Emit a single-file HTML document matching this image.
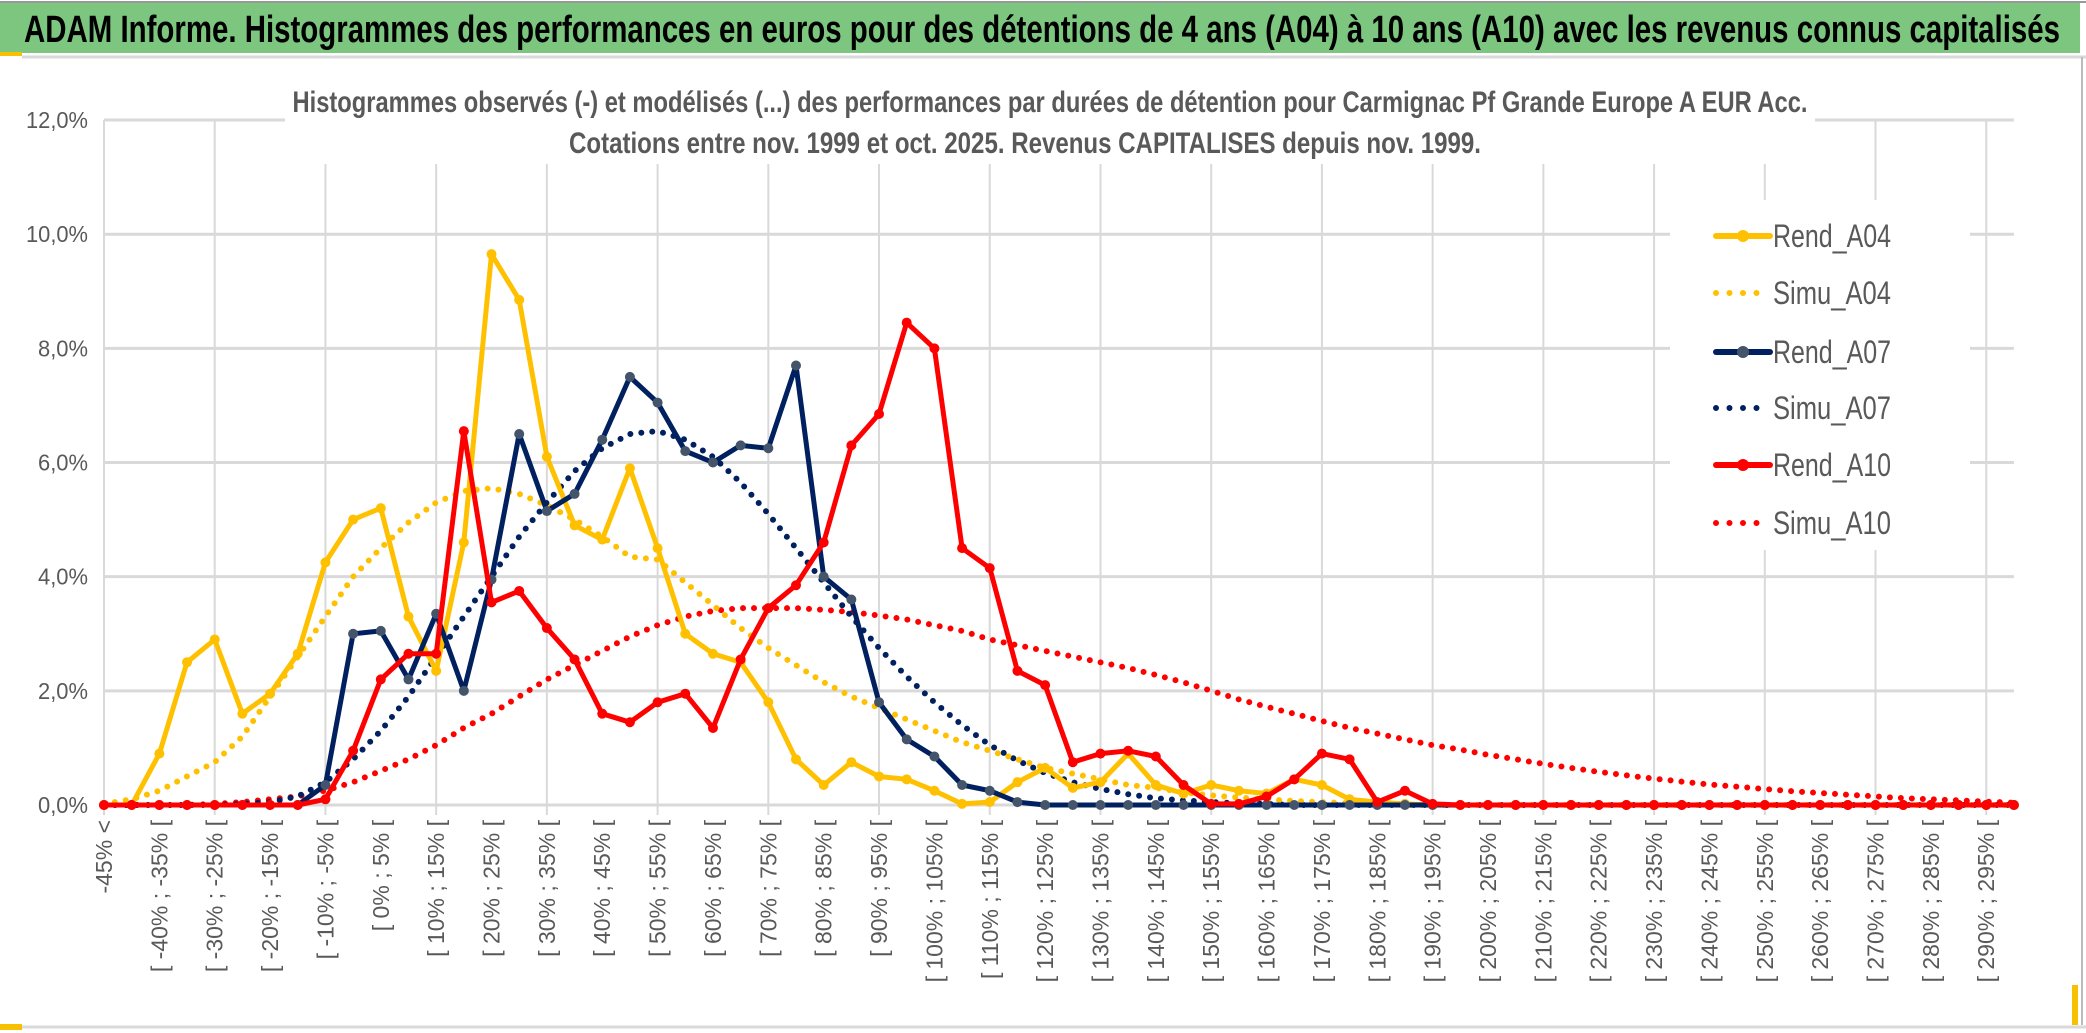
<!DOCTYPE html>
<html><head><meta charset="utf-8"><style>
html,body{margin:0;padding:0;background:#fff;width:2086px;height:1033px;overflow:hidden}
svg{display:block;font-family:"Liberation Sans",sans-serif}
</style></head><body>
<svg id="chart" width="2086" height="1033" viewBox="0 0 2086 1033" xmlns="http://www.w3.org/2000/svg">
<rect x="0" y="0" width="2086" height="1033" fill="#fff"/>
<rect x="0" y="3" width="2080" height="50" fill="#7dc67f"/>
<line x1="0" y1="2" x2="2086" y2="2" stroke="#999" stroke-width="2"/>
<rect x="0" y="52" width="22" height="4" fill="#f7c000"/>
<line x1="22" y1="57" x2="2086" y2="57" stroke="#d9d9d9" stroke-width="3"/>
<text x="24" y="42" font-size="38" font-weight="bold" fill="#000" textLength="2036" lengthAdjust="spacingAndGlyphs">ADAM Informe. Histogrammes des performances en euros pour des détentions de 4 ans (A04) à 10 ans (A10) avec les revenus connus capitalisés</text>
<line x1="2082" y1="57" x2="2082" y2="1025" stroke="#bbb" stroke-width="2"/>
<line x1="0" y1="1027" x2="2086" y2="1027" stroke="#d9d9d9" stroke-width="3"/>
<rect x="0" y="1024" width="22" height="6" fill="#f7c000"/>
<rect x="2072" y="985" width="6" height="40" fill="#f7c000"/>
<g id="grid"></g>
<g id="yaxis"></g>
<g id="xaxis"></g>
<rect x="285" y="72" width="1530" height="92" fill="#fff"/>
<text x="1050" y="112" font-size="30" font-weight="bold" fill="#595959" text-anchor="middle" textLength="1515" lengthAdjust="spacingAndGlyphs">Histogrammes observés (-) et modélisés (...) des performances par durées de détention pour Carmignac Pf Grande Europe A EUR Acc.</text>
<text x="1025" y="153" font-size="30" font-weight="bold" fill="#595959" text-anchor="middle" textLength="912" lengthAdjust="spacingAndGlyphs">Cotations entre nov. 1999 et oct. 2025. Revenus CAPITALISES depuis nov. 1999.</text>
<g id="series"></g>
<g id="legend"></g>
</svg>
<script>
const categories = (function(){const a=["-45% <"];for(let k=1;k<70;k++){const lo=-50+5*k;a.push("[ "+lo+"% ; "+(lo+5)+"% [");}return a;})();
const yTicks = [0,2,4,6,8,10,12];
const yTickLabels = ["0,0%","2,0%","4,0%","6,0%","8,0%","10,0%","12,0%"];
const rendA04 = [0,0,0.9,2.5,2.9,1.6,1.95,2.65,4.25,5.0,5.2,3.3,2.35,4.6,9.65,8.85,6.1,4.9,4.65,5.9,4.5,3.0,2.65,2.5,1.8,0.8,0.35,0.75,0.5,0.45,0.25,0.02,0.05,0.4,0.65,0.3,0.4,0.9,0.35,0.2,0.35,0.25,0.2,0.45,0.35,0.1,0.05,0.02,0,0,0,0,0,0,0,0,0,0,0,0,0,0,0,0,0,0,0,0,0,0];
const simuA04 = [0.02,0.1,0.25,0.5,0.75,1.2,1.9,2.6,3.3,4.0,4.5,4.95,5.3,5.5,5.55,5.45,5.25,5.0,4.7,4.35,4.3,3.9,3.5,3.1,2.75,2.45,2.15,1.9,1.7,1.5,1.3,1.1,0.95,0.8,0.65,0.55,0.45,0.35,0.3,0.22,0.17,0.13,0.1,0.07,0.05,0.03,0.02,0,0,0,0,0,0,0,0,0,0,0,0,0,0,0,0,0,0,0,0,0,0,0];
const rendA07 = [0,0,0,0,0,0,0,0,0.35,3.0,3.05,2.2,3.35,2.0,3.95,6.5,5.15,5.45,6.4,7.5,7.05,6.2,6.0,6.3,6.25,7.7,4.0,3.6,1.8,1.15,0.85,0.35,0.25,0.05,0,0,0,0,0,0,0,0,0,0,0,0,0,0,0,0,0,0,0,0,0,0,0,0,0,0,0,0,0,0,0,0,0,0,0,0];
const simuA07 = [0,0,0,0,0,0.02,0.05,0.15,0.4,0.8,1.3,1.9,2.6,3.3,4.0,4.7,5.3,5.85,6.25,6.5,6.55,6.4,6.1,5.65,5.1,4.5,3.9,3.3,2.75,2.25,1.8,1.4,1.05,0.78,0.56,0.4,0.28,0.19,0.12,0.08,0.05,0.03,0.02,0,0,0,0,0,0,0,0,0,0,0,0,0,0,0,0,0,0,0,0,0,0,0,0,0,0,0];
const rendA10 = [0,0,0,0,0,0,0,0,0.1,0.95,2.2,2.65,2.65,6.55,3.55,3.75,3.1,2.55,1.6,1.45,1.8,1.95,1.35,2.55,3.45,3.85,4.6,6.3,6.85,8.45,8.0,4.5,4.15,2.35,2.1,0.75,0.9,0.95,0.85,0.35,0.02,0.02,0.15,0.45,0.9,0.8,0.05,0.25,0.02,0,0,0,0,0,0,0,0,0,0,0,0,0,0,0,0,0,0,0,0,0];
const simuA10 = [0,0,0,0,0.02,0.05,0.1,0.15,0.25,0.4,0.6,0.8,1.05,1.35,1.6,1.9,2.2,2.45,2.7,2.95,3.15,3.3,3.4,3.45,3.45,3.45,3.42,3.38,3.32,3.25,3.15,3.05,2.9,2.8,2.7,2.6,2.5,2.4,2.28,2.15,2.0,1.85,1.72,1.6,1.47,1.35,1.25,1.15,1.05,0.97,0.88,0.8,0.72,0.65,0.58,0.52,0.46,0.41,0.36,0.32,0.28,0.24,0.21,0.18,0.15,0.12,0.1,0.08,0.06,0.04];
const seriesNames = ["Rend_A04","Simu_A04","Rend_A07","Simu_A07","Rend_A10","Simu_A10"];

const NS="http://www.w3.org/2000/svg";
const X0=104, DX=27.68, Y0=805, PY=57.08;
function xs(k){return X0+DX*k;}
function ys(v){return Y0-PY*v;}
function mk(tag,attrs,parent){const e=document.createElementNS(NS,tag);for(const a in attrs)e.setAttribute(a,attrs[a]);parent.appendChild(e);return e;}
const grid=document.getElementById('grid'),yax=document.getElementById('yaxis'),xax=document.getElementById('xaxis'),ser=document.getElementById('series'),leg=document.getElementById('legend');
yTicks.forEach((t,i)=>{
  const l=mk('line',{x1:X0,x2:xs(69),y1:ys(t),y2:ys(t),stroke:'#d9d9d9','stroke-width':3},grid);
  
  
  const tx=mk('text',{x:88,y:ys(t)+8,'font-size':23,fill:'#595959','text-anchor':'end',textLength:(yTickLabels[i].length>4?62:50),lengthAdjust:'spacingAndGlyphs'},yax);
  tx.textContent=yTickLabels[i];
  
  
});
for(let k=0;k<categories.length;k+=4){
  const l=mk('line',{x1:xs(k),x2:xs(k),y1:ys(12),y2:Y0+10,stroke:'#d9d9d9','stroke-width':2},grid);
  
  
}
for(let k=0;k<categories.length;k+=2){
  const x=xs(k)+8,y=820;
  const tx=mk('text',{x:x,y:y,'font-size':23,fill:'#595959','text-anchor':'end',transform:'rotate(-90 '+x+' '+y+')'},xax);
  tx.textContent=categories[k];
  
  
}
function pts(arr){return arr.map((v,k)=>xs(k).toFixed(1)+','+ys(v).toFixed(1)).join(' ');}
function rend(arr,color,mcolor,name){
  const g=mk('g',{},ser);
  
  
  mk('polyline',{points:pts(arr),fill:'none',stroke:color,'stroke-width':5,'stroke-linejoin':'round'},g);
  arr.forEach((v,k)=>{const c=mk('circle',{cx:xs(k),cy:ys(v),r:5,fill:mcolor},g);
    
    });
}
function simu(arr,color,name){
  const p=mk('polyline',{points:pts(arr),fill:'none',stroke:color,'stroke-width':6,'stroke-linecap':'round','stroke-dasharray':'0 11'},ser);
  
  
}
simu(simuA10,'#ff0000','simu-a10-line');
simu(simuA07,'#002060','simu-a07-line');
simu(simuA04,'#ffc000','simu-a04-line');
rend(rendA04,'#ffc000','#ffc000','rend-a04-line');
rend(rendA07,'#002060','#44546a','rend-a07-line');
rend(rendA10,'#ff0000','#ff0000','rend-a10-line');
// legend
mk('rect',{x:1670,y:200,width:300,height:350,fill:'#fff'},leg);
const lc=['#ffc000','#ffc000','#002060','#002060','#ff0000','#ff0000'];
const lm=['#ffc000',null,'#44546a',null,'#ff0000',null];
const ly=[236,293,352,408,465,523];
seriesNames.forEach((n,i)=>{
  const g=mk('g',{},leg);
  
  
  if(lm[i]){
    mk('line',{x1:1716,x2:1770,y1:ly[i],y2:ly[i],stroke:lc[i],'stroke-width':6,'stroke-linecap':'round'},g);
    mk('circle',{cx:1743,cy:ly[i],r:6,fill:lm[i]},g);
  } else {
    mk('line',{x1:1716,x2:i==5?1770:1760,y1:ly[i],y2:ly[i],stroke:lc[i],'stroke-width':6,'stroke-linecap':'round','stroke-dasharray':'0 13.5'},g);
  }
  const t=mk('text',{x:1773,y:ly[i]+11,'font-size':32,fill:'#595959',textLength:118,lengthAdjust:'spacingAndGlyphs'},g);
  t.textContent=n;
});
</script>
</body></html>
